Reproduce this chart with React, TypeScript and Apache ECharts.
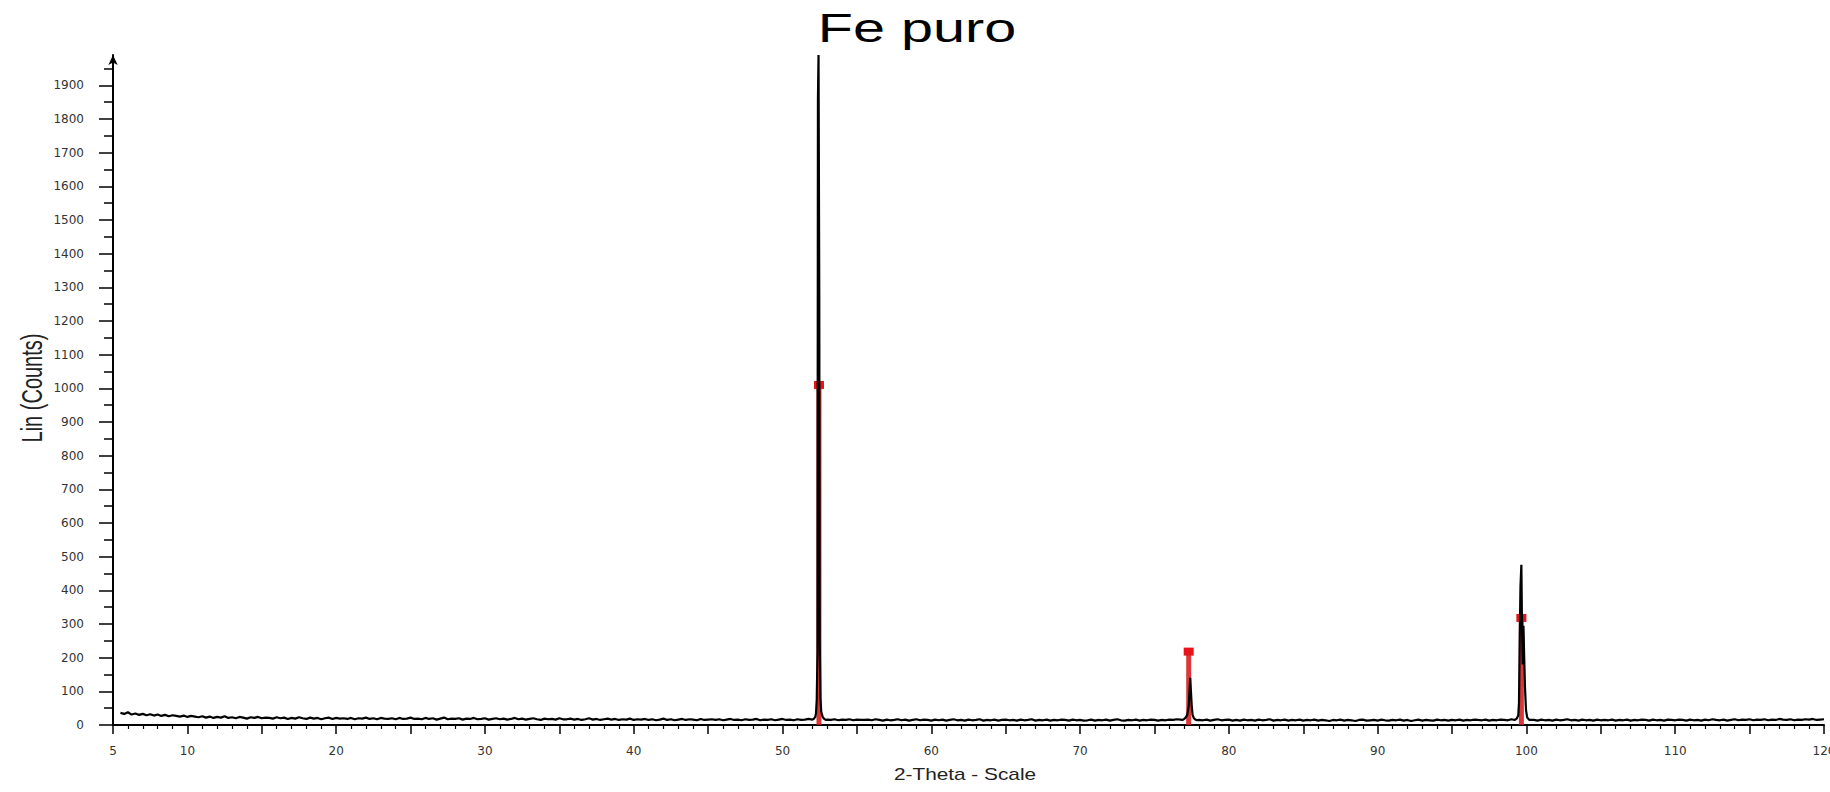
import React, { useEffect, useRef } from "react";
import * as echarts from "echarts";

// 2-theta scan grid for the background counts
const scanStart = 5.5;
const scanStep = 0.25;

// background counts (one row = 5 degrees)
const background: number[] = [
  36, 33, 38, 31, 34, 30, 33, 29, 32, 28, 31, 27, 30, 26, 29, 27, 25, 28, 24, 27,
  25, 23, 26, 22, 25, 21, 24, 22, 26, 21, 23, 20, 24, 22, 19, 23, 21, 24, 20, 22,
  21, 19, 23, 20, 22, 18, 21, 19, 23, 20, 18, 22, 19, 21, 17, 20, 22, 18, 21, 19,
  20, 18, 21, 17, 20, 19, 22, 18, 20, 17, 21, 19, 18, 20, 17, 21, 18, 19, 22, 18,
  19, 17, 21, 18, 20, 16, 19, 22, 17, 19, 18, 20, 16, 19, 18, 21, 17, 18, 20, 16,
  18, 20, 17, 19, 16, 18, 21, 17, 19, 16, 18, 20, 17, 15, 19, 17, 18, 16, 20, 17,
  17, 19, 16, 18, 15, 17, 20, 16, 18, 15, 17, 19, 16, 18, 15, 17, 16, 19, 15, 17,
  16, 18, 15, 17, 14, 16, 19, 15, 17, 14, 16, 18, 15, 17, 16, 14, 18, 15, 16, 17,
  15, 17, 14, 16, 18, 15, 16, 14, 17, 15, 16, 18, 14, 16, 15, 17, 14, 16, 18, 15,
  16, 14, 17, 15, 16, 18, 15, 17, 19, 18, 16, 15, 17, 14, 16, 15, 17, 14, 16, 15,
  15, 16, 14, 17, 15, 13, 16, 14, 15, 17, 14, 16, 13, 15, 17, 14, 16, 15, 13, 16,
  14, 16, 13, 15, 17, 14, 15, 13, 16, 14, 15, 17, 13, 15, 14, 16, 13, 15, 16, 14,
  15, 13, 16, 14, 15, 17, 13, 15, 14, 16, 13, 15, 14, 16, 15, 13, 16, 14, 15, 13,
  14, 16, 13, 15, 14, 16, 13, 15, 17, 14, 13, 15, 14, 16, 13, 15, 14, 16, 15, 13,
  15, 14, 16, 15, 17, 16, 18, 20, 22, 24, 15, 14, 16, 13, 15, 17, 14, 15, 16, 13,
  15, 13, 16, 14, 15, 13, 16, 14, 15, 17, 13, 15, 14, 16, 13, 15, 14, 16, 13, 15,
  14, 16, 13, 15, 14, 12, 15, 14, 16, 13, 15, 14, 12, 15, 16, 13, 14, 15, 13, 16,
  14, 13, 15, 14, 16, 13, 15, 12, 14, 16, 13, 15, 14, 13, 16, 14, 15, 13, 15, 14,
  16, 13, 15, 14, 16, 15, 14, 16, 13, 15, 14, 16, 15, 14, 17, 20, 25, 30, 22, 15,
  15, 13, 16, 14, 15, 13, 16, 14, 15, 17, 14, 15, 13, 16, 14, 15, 13, 16, 14, 15,
  14, 16, 13, 15, 14, 16, 13, 15, 14, 16, 15, 13, 16, 14, 15, 13, 16, 15, 14, 16,
  15, 13, 16, 14, 15, 13, 16, 14, 17, 15, 14, 16, 13, 15, 17, 14, 16, 15, 17, 14,
  16, 15, 17, 14, 16, 15, 18, 16, 15, 17, 14, 16, 15, 17, 16, 18, 15, 16, 17, 14,
];

// measured peaks [2-theta, counts]
const peak110: [number, number][] = [
  [52.0, 16], [52.1, 18], [52.2, 24], [52.25, 35], [52.3, 75], [52.35, 215],
  [52.38, 1857], [52.42, 1990], [52.47, 1278], [52.5, 253], [52.55, 80],
  [52.6, 40], [52.7, 24], [52.8, 18], [52.9, 15],
];
const peak200: [number, number][] = [
  [76.9, 15], [77.0, 18], [77.1, 22], [77.2, 30], [77.3, 55], [77.4, 140],
  [77.45, 100], [77.5, 60], [77.56, 30], [77.65, 20], [77.75, 16], [77.85, 14],
];
const peak211: [number, number][] = [
  [99.2, 15], [99.35, 19], [99.45, 28], [99.5, 67], [99.55, 263], [99.6, 412],
  [99.66, 476], [99.7, 300], [99.75, 180], [99.8, 295], [99.85, 200],
  [99.9, 115], [99.97, 45], [100.05, 22], [100.2, 15],
];

// reference pattern (Fe, red sticks)
const refPositions: number[] = [52.45, 77.3, 99.66];
const refCounts: number[] = [1010, 218, 318];

// axis ticks
const xLabelValues: number[] = [5, 10, 20, 30, 40, 50, 60, 70, 80, 90, 100, 110, 120];
const yMajorTicks: number[] = [0, 100, 200, 300, 400, 500, 600, 700, 800, 900, 1000, 1100, 1200, 1300, 1400, 1500, 1600, 1700, 1800, 1900];
const yMinorTicks: number[] = [50, 150, 250, 350, 450, 550, 650, 750, 850, 950, 1050, 1150, 1250, 1350, 1450, 1550, 1650, 1750, 1850, 1950];

const titleText = "Fe puro";
const xName = "2-Theta - Scale";
const yName = "Lin (Counts)";

export default function App() {
  const ref = useRef<HTMLDivElement>(null);

  useEffect(() => {
    document.body.style.margin = "0";
    if (!ref.current) return;
    const chart = echarts.init(ref.current, null, { renderer: "svg" });

    const peaks = [peak110, peak200, peak211];
    const bgPoints: [number, number][] = background
      .map((v, i) => [scanStart + i * scanStep, v] as [number, number])
      .filter(
        (p) =>
          p[0] <= 120 &&
          !peaks.some((pk) => p[0] >= pk[0][0] && p[0] <= pk[pk.length - 1][0])
      );
    const scan = bgPoints
      .concat(peak110, peak200, peak211)
      .sort((a, b) => a[0] - b[0]);

    const sticks = refPositions.map((x, i) => [x, refCounts[i]]);

    const labelFont = {
      fontFamily: "DejaVu Sans",
      fontSize: 12,
      color: "#333",
    };

    chart.setOption({
      animation: false,
      backgroundColor: "#fff",
      grid: {
        left: 113,
        right: 6,
        top: 55,
        bottom: 67,
        containLabel: false,
        outerBoundsMode: "none",
      },
      xAxis: {
        type: "value",
        min: 5,
        max: 120,
        interval: 5,
        axisLine: { show: true, lineStyle: { color: "#000", width: 2 } },
        axisTick: { show: true, length: 9, lineStyle: { color: "#000", width: 1.5 } },
        minorTick: { show: true, splitNumber: 5, length: 4, lineStyle: { color: "#000", width: 1.2 } },
        splitLine: { show: false },
        minorSplitLine: { show: false },
        axisLabel: {
          ...labelFont,
          margin: 20,
          formatter: (v: number) => (xLabelValues.includes(v) ? String(v) : ""),
        },
      },
      yAxis: [
        {
          type: "value",
          min: 0,
          max: 1990,
          axisLine: {
            show: true,
            lineStyle: { color: "#000", width: 2 },
            symbol: ["none", "arrow"],
            symbolSize: [7, 10],
          },
          axisTick: {
            show: true,
            customValues: yMajorTicks,
            length: 14,
            lineStyle: { color: "#000", width: 1.5 },
          },
          axisLabel: {
            ...labelFont,
            customValues: yMajorTicks,
            margin: 29,
            formatter: (v: number) => String(v),
          },
          splitLine: { show: false },
        },
        {
          type: "value",
          min: 0,
          max: 1990,
          position: "left",
          axisLine: { show: false },
          axisTick: {
            show: true,
            customValues: yMinorTicks,
            length: 9,
            lineStyle: { color: "#000", width: 1.5 },
          },
          axisLabel: { show: false },
          splitLine: { show: false },
        },
      ],
      graphic: [
        {
          type: "text",
          x: 917,
          y: 28,
          scaleX: 1.44,
          style: {
            text: titleText,
            font: "40px 'Liberation Sans', Arial, sans-serif",
            fill: "#000",
            align: "center",
            verticalAlign: "middle",
          },
        },
        {
          type: "text",
          x: 31,
          y: 388,
          rotation: Math.PI / 2,
          scaleY: 1.5,
          style: {
            text: yName,
            font: "20px 'Liberation Sans', Arial, sans-serif",
            fill: "#222",
            align: "center",
            verticalAlign: "middle",
          },
        },
        {
          type: "text",
          x: 965,
          y: 774,
          scaleX: 1.3,
          style: {
            text: xName,
            font: "16px 'Liberation Sans', Arial, sans-serif",
            fill: "#222",
            align: "center",
            verticalAlign: "middle",
          },
        },
      ],
      series: [
        {
          type: "line",
          data: scan,
          xAxisIndex: 0,
          yAxisIndex: 0,
          showSymbol: false,
          symbol: "none",
          lineStyle: { color: "#000", width: 2.2 },
          clip: true,
        },
        {
          type: "custom",
          data: sticks,
          xAxisIndex: 0,
          yAxisIndex: 0,
          encode: { x: 0, y: 1 },
          renderItem: (params: any, api: any) => {
            const x = api.value(0);
            const y = api.value(1);
            const top = api.coord([x, y]);
            const base = api.coord([x, 0]);
            return {
              type: "group",
              children: [
                {
                  type: "rect",
                  shape: { x: top[0] - 2.5, y: top[1], width: 5, height: base[1] - top[1] },
                  style: { fill: "#d41515", opacity: 0.85 },
                },
                {
                  type: "rect",
                  shape: { x: top[0] - 5, y: top[1] - 4, width: 10, height: 8 },
                  style: { fill: "#e8141a" },
                },
              ],
            };
          },
        },
      ],
    });

    return () => chart.dispose();
  }, []);

  return <div ref={ref} style={{ width: 1830, height: 792 }} />;
}
